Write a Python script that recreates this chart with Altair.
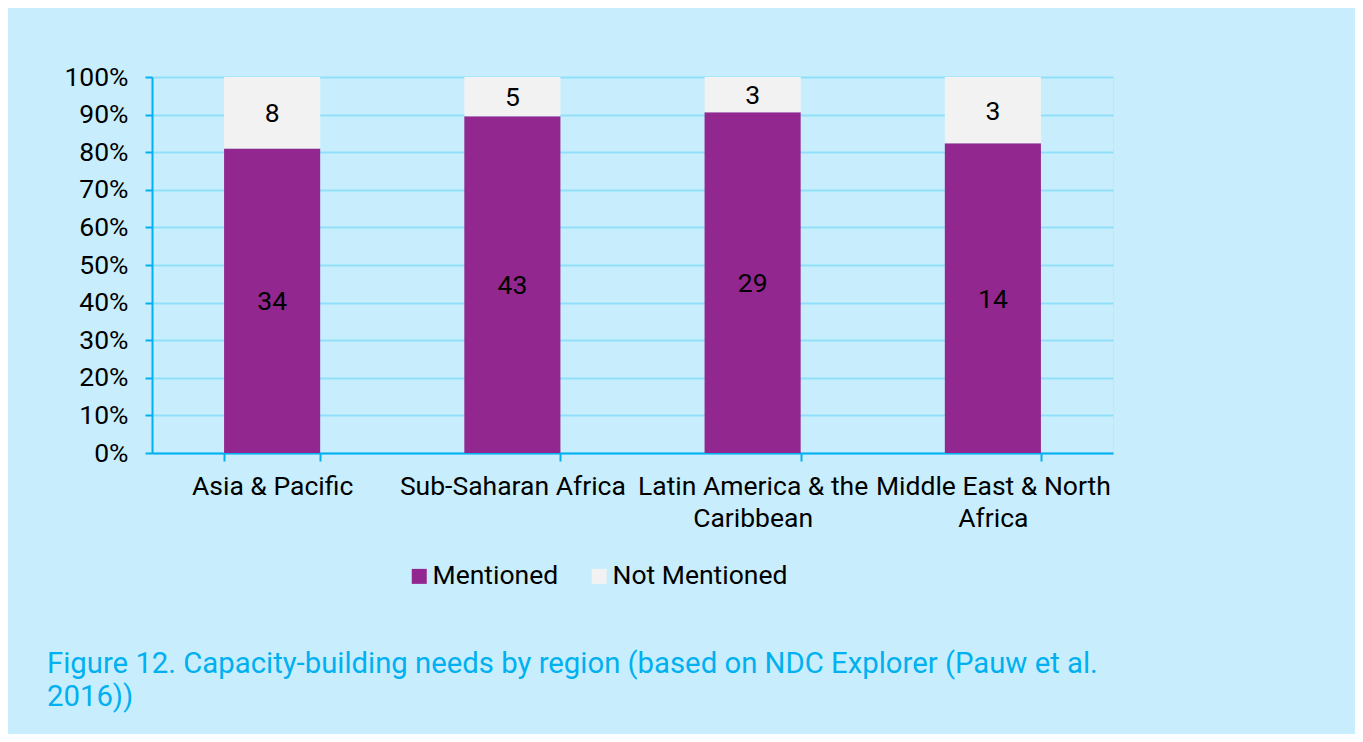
import json
import altair as alt
import pandas as pd

regions = ["Asia & Pacific", "Sub-Saharan Africa", "Latin America & the Caribbean", "Middle East & North Africa"]
region_lines = [["Asia & Pacific"], ["Sub-Saharan Africa"], ["Latin America & the", "Caribbean"], ["Middle East & North", "Africa"]]
mentioned = [34, 43, 29, 14]
not_mentioned = [8, 5, 3, 3]
series = ["Mentioned", "Not Mentioned"]
colors = ["#92278f", "#f2f2f2"]
y_ticks = [0, 0.1, 0.2, 0.3, 0.4, 0.5, 0.6, 0.7, 0.8, 0.9, 1.0]
caption = "Figure 12. Capacity-building needs by region (based on NDC Explorer (Pauw et al.\n2016))"

rows = []
for r, m, n in zip(regions, mentioned, not_mentioned):
    rows.append({"region": r, "series": series[0], "count": m, "ord": 0})
    rows.append({"region": r, "series": series[1], "count": n, "ord": 1})
df = pd.DataFrame(rows)

expr = "datum.label"
for r, lines in reversed(list(zip(regions, region_lines))):
    expr = f"datum.label == {json.dumps(r)} ? {json.dumps(lines)} : ({expr})"

BLUE = "#00b0f0"
GRID = "#8fdff9"
FONT = "Roboto"
FS = 26.5

x_axis = alt.Axis(
    labelAngle=0,
    labelExpr=expr,
    labelFontSize=FS,
    labelColor="#000000",
    labelPadding=12,
    labelLineHeight=32,
    labelLimit=0,
    labelBaseline="top",
    tickBand="extent",
    tickColor=BLUE,
    tickWidth=2,
    tickSize=8,
    domainColor=BLUE,
    domainWidth=2,
    grid=False,
    title=None,
)

y_axis = alt.Axis(
    values=y_ticks,
    format=".0%",
    labelOverlap=False,
    labelFontSize=FS,
    labelColor="#000000",
    labelPadding=17,
    tickColor=BLUE,
    tickWidth=2,
    tickSize=7,
    domainColor=BLUE,
    domainWidth=2,
    gridColor=GRID,
    gridWidth=2,
    title=None,
)

x_scale = alt.Scale(paddingInner=0.6, paddingOuter=0.3)
y_scale = alt.Scale(domain=[0, 1])

bars = alt.Chart(df).mark_bar().encode(
    x=alt.X("region:N", sort=regions, scale=x_scale, axis=x_axis),
    y=alt.Y("count:Q", stack="normalize", scale=y_scale, axis=y_axis),
    color=alt.Color(
        "series:N",
        scale=alt.Scale(domain=series, range=colors),
        legend=alt.Legend(
            title=None,
            orient="none",
            legendX=254,
            legendY=486,
            direction="horizontal",
            symbolType="square",
            symbolSize=225,
            symbolStrokeWidth=0,
            labelFontSize=FS,
            labelColor="#000000",
            labelOffset=0,
            labelLimit=0,
            columnPadding=27,
        ),
    ),
    order=alt.Order("ord:Q"),
)

labels = alt.Chart(df).transform_joinaggregate(
    total="sum(count)", groupby=["region"]
).transform_calculate(
    share="datum.count / datum.total"
).transform_window(
    cum="sum(share)", sort=[alt.SortField("ord")], groupby=["region"]
).transform_calculate(
    mid="datum.cum - datum.share / 2"
).mark_text(fontSize=FS, color="#000000", font=FONT, dy=1.5).encode(
    x=alt.X("region:N", sort=regions, scale=x_scale, axis=x_axis),
    y=alt.Y("mid:Q", scale=y_scale, axis=y_axis),
    text=alt.Text("count:Q"),
)

cap = alt.Chart(pd.DataFrame({"caption": [caption]})).mark_text(
    align="left", baseline="top", fontSize=29.3, color=BLUE, font=FONT,
    lineBreak="\n", lineHeight=33,
).encode(
    x=alt.value(-105),
    y=alt.value(573),
    text="caption:N",
)

chart = alt.layer(bars, labels, cap).properties(
    width=961,
    height=376,
    autosize=alt.AutoSizeParams(type="none"),
    padding={"left": 144, "top": 69, "right": 242, "bottom": 281},
    background="#c8eefd",
).configure_view(stroke=None).configure(font=FONT)

chart.save("out.html", embed_options={"renderer": "svg", "actions": False})
